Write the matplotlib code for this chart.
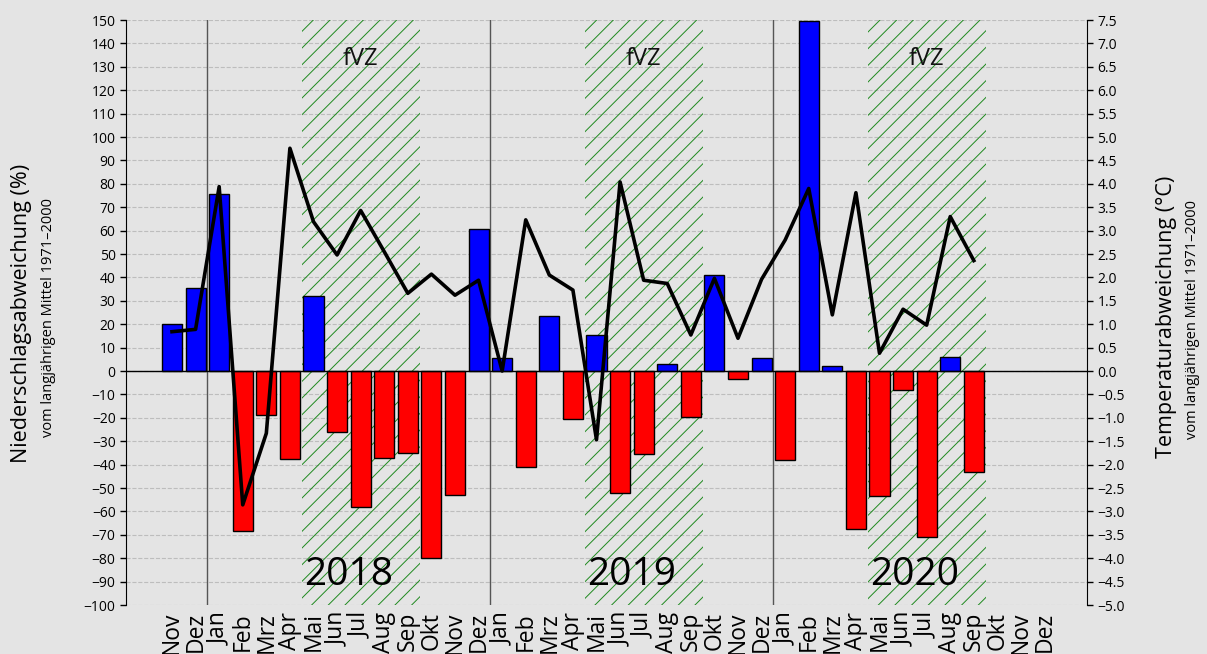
import matplotlib
matplotlib.use("Agg")
import matplotlib.pyplot as plt
import numpy as np

plt.rcParams['font.family'] = ['Open Sans', 'DejaVu Sans']
plt.rcParams['hatch.color'] = '#1f8a1f'
plt.rcParams['hatch.linewidth'] = 0.7

# Monatsnamen (Nov 2017 bis Dez 2020)
monate = ['Jan', 'Feb', 'Mrz', 'Apr', 'Mai', 'Jun', 'Jul', 'Aug', 'Sep', 'Okt', 'Nov', 'Dez']
labels = ['Nov', 'Dez'] + monate * 3

# Niederschlagsabweichung in % (Nov 2017 bis Sep 2020)
niederschlag = [20, 35.5, 75.5,
                -68.5, -19, -37.5, 32, -26, -58, -37, -35, -80, -53, 60.5,
                5.5, -41, 23.5, -20.5, 15.5, -52, -35.5, 3, -19.5, 41, -3.5, 5.5,
                -38, 149.5, 2, -67.5, -53.5, -8, -71, 6, -43]

# Temperaturabweichung in °C (Nov 2017 bis Sep 2020)
temperatur = [0.84, 0.89, 3.94,
              -2.86, -1.33, 4.76, 3.19, 2.48, 3.43, 2.55, 1.66, 2.07, 1.62, 1.94,
              0.0, 3.23, 2.05, 1.73, -1.47, 4.04, 1.94, 1.87, 0.77, 1.98, 0.70, 1.96,
              2.80, 3.90, 1.20, 3.81, 0.38, 1.32, 0.98, 3.30, 2.36]

jahre = ['2018', '2019', '2020']

bg = '#e4e4e4'
fig = plt.figure(figsize=(12.07, 6.54), dpi=100, facecolor=bg)
ax = fig.add_axes([0.1044, 0.0749, 0.9006 - 0.1044, 0.9694 - 0.0749])
ax.set_facecolor(bg)
ax2 = ax.twinx()

x = np.arange(len(niederschlag))
farben = ['blue' if v >= 0 else 'red' for v in niederschlag]

# Vegetationszeit (Mai bis Sep) schraffiert
for i in range(3):
    start = 5.5 + 12 * i
    ax.axvspan(start, start + 5, facecolor='none', edgecolor='#1f8a1f', hatch='//', linewidth=0, zorder=1)
    ax.text(start + 2.5, 130.8, 'fVZ', ha='center', va='baseline', fontsize=17,
            color='#111111', zorder=4)
    ax.text(start + 2.0, -91.5, jahre[i], ha='center', va='baseline', fontsize=28,
            color='black', zorder=4)

# Jahresgrenzen
for xs in [1.5, 13.5, 25.5]:
    ax.axvline(xs, color='#555555', linewidth=1, zorder=2)

ax.bar(x, niederschlag, width=0.85, color=farben, edgecolor='black', linewidth=1, zorder=3)
ax.axhline(0, color='black', linewidth=1, zorder=3)

ax2.plot(x, temperatur, color='black', linewidth=2.6, zorder=5)

ax.set_xlim(-1.95, 38.8)
ax.set_ylim(-100, 150)
ax2.set_ylim(-5, 7.5)
ax.set_yticks(np.arange(-100, 151, 10))
ax2.set_yticks(np.arange(-5, 7.51, 0.5))
ax2.set_yticklabels([('%.1f' % v).replace('-', '\u2212') for v in np.arange(-5, 7.51, 0.5)])

ax.set_xticks(np.arange(len(labels)))
ax.set_xticklabels(labels, rotation=90, fontsize=16.5)
ax.tick_params(axis='x', length=0, pad=5)
ax.tick_params(axis='y', labelsize=10, length=4, width=1, color='black')
ax2.tick_params(axis='y', labelsize=10, length=4, width=1, color='black')

ax.grid(axis='y', linestyle='--', color='#bdbdbd', linewidth=0.8, zorder=0)
ax.set_axisbelow(True)

for a in (ax, ax2):
    a.spines['top'].set_visible(False)
    a.spines['bottom'].set_visible(False)
ax2.spines['left'].set_visible(False)
ax.spines['right'].set_visible(False)

# Achsenbeschriftungen
fig.text(0.0182, 0.52, 'Niederschlagsabweichung (%)', rotation=90, ha='center', va='center',
         fontsize=15.5)
fig.text(0.0398, 0.515, 'vom langjährigen Mittel 1971\u20132000', rotation=90, ha='center', va='center',
         fontsize=10.5)
fig.text(0.9666, 0.516, 'Temperaturabweichung (°C)', rotation=90, ha='center', va='center',
         fontsize=15.5)
fig.text(0.9884, 0.512, 'vom langjährigen Mittel 1971\u20132000', rotation=90, ha='center', va='center',
         fontsize=10.5)

fig.savefig('out.png', dpi=100, facecolor=bg)
